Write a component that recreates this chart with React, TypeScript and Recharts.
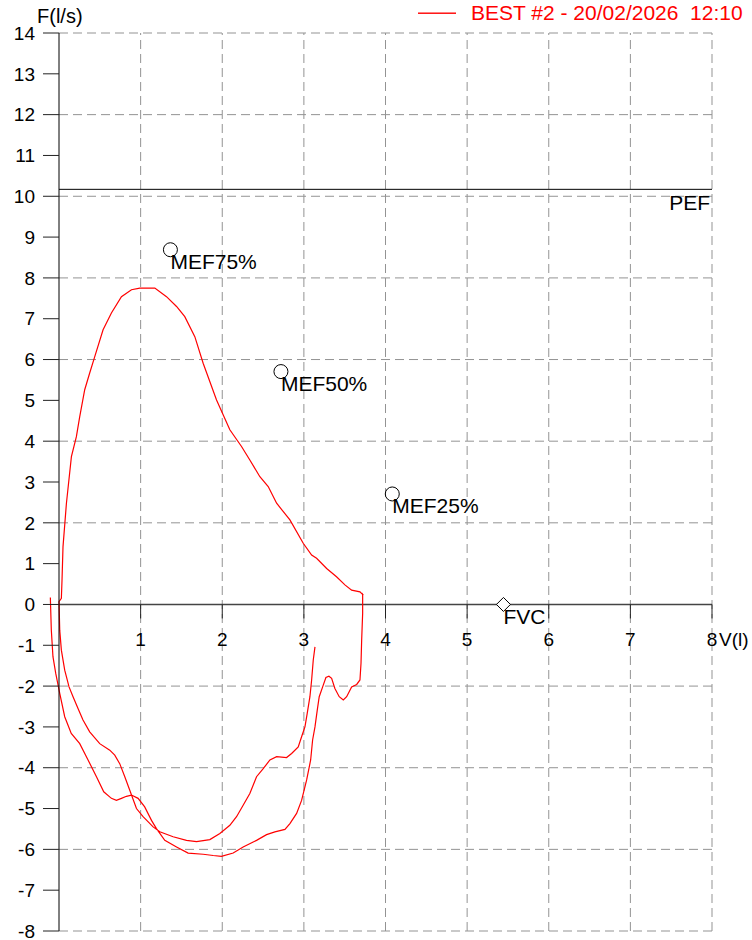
import React from 'react';
import {
  ComposedChart,
  Line,
  Scatter,
  XAxis,
  YAxis,
  ReferenceLine,
} from 'recharts';

// volume (l), flow (l/s)
const outerLoop: [number, number][] = [
  [-0.106, 0.17], [-0.094, -0.63], [-0.074, -1.28], [-0.04, -1.69], [0.009, -2.18],
  [0.07, -2.75], [0.15, -3.16], [0.254, -3.41], [0.356, -3.81], [0.459, -4.22],
  [0.548, -4.59], [0.642, -4.75], [0.703, -4.8], [0.765, -4.75], [0.826, -4.7],
  [0.888, -4.67], [0.969, -4.75], [1.05, -4.96], [1.133, -5.29], [1.194, -5.49],
  [1.296, -5.78], [1.44, -5.94], [1.582, -6.09], [1.766, -6.12], [1.889, -6.15],
  [1.99, -6.17], [2.134, -6.09], [2.256, -5.94], [2.42, -5.78], [2.543, -5.64],
  [2.645, -5.57], [2.768, -5.51], [2.829, -5.37], [2.911, -5.12], [2.972, -4.8],
  [3.034, -4.3], [3.083, -3.81], [3.107, -3.32], [3.136, -3.0], [3.164, -2.59],
  [3.188, -2.26], [3.23, -2.02], [3.27, -1.79], [3.307, -1.76], [3.34, -1.81],
  [3.38, -2.06], [3.433, -2.26], [3.483, -2.34], [3.524, -2.26], [3.585, -2.02],
  [3.647, -1.96], [3.687, -1.85], [3.7, -1.44], [3.708, -0.87], [3.72, -0.22],
  [3.72, 0.25],
];

const expiration: [number, number][] = [
  [3.728, 0.23], [3.687, 0.31], [3.585, 0.35], [3.503, 0.48], [3.4, 0.68],
  [3.279, 0.88], [3.156, 1.13], [3.095, 1.21], [2.992, 1.5], [2.829, 2.07],
  [2.666, 2.48], [2.563, 2.89], [2.461, 3.13], [2.338, 3.54], [2.236, 3.87],
  [2.093, 4.28], [1.93, 5.01], [1.766, 5.91], [1.664, 6.56], [1.541, 7.05],
  [1.44, 7.3], [1.317, 7.54], [1.174, 7.75], [0.99, 7.75], [0.888, 7.71],
  [0.765, 7.54], [0.642, 7.14], [0.54, 6.73], [0.438, 6.07], [0.376, 5.67],
  [0.315, 5.26], [0.254, 4.6], [0.213, 4.11], [0.152, 3.62], [0.091, 2.48],
  [0.049, 1.41], [0.037, 0.6], [0.029, 0.15],
];

const innerLoop: [number, number][] = [
  [0.0, 0.07], [0.009, -0.63], [0.029, -1.12], [0.07, -1.61], [0.123, -2.02],
  [0.172, -2.26], [0.233, -2.55], [0.294, -2.83], [0.376, -3.12], [0.499, -3.41],
  [0.622, -3.57], [0.683, -3.69], [0.744, -3.9], [0.806, -4.22], [0.867, -4.55],
  [0.949, -5.0], [1.03, -5.2], [1.153, -5.45], [1.235, -5.57], [1.398, -5.69],
  [1.562, -5.78], [1.685, -5.81], [1.848, -5.76], [1.971, -5.61], [2.093, -5.41],
  [2.175, -5.2], [2.256, -4.92], [2.338, -4.63], [2.42, -4.22], [2.502, -4.02],
  [2.584, -3.81], [2.666, -3.73], [2.788, -3.75], [2.85, -3.65], [2.931, -3.49],
  [2.972, -3.24], [3.013, -3.0], [3.041, -2.67], [3.074, -2.26], [3.095, -1.85],
  [3.115, -1.36], [3.136, -1.04],
];

const loop = [...outerLoop, ...expiration, ...innerLoop].map(([v, f]) => ({ v, f }));

const volumeTicks = [1, 2, 3, 4, 5, 6, 7, 8];
const flowTicks = [-8, -7, -6, -5, -4, -3, -2, -1, 0, 1, 2, 3, 4, 5, 6, 7, 8, 9, 10, 11, 12, 13, 14];
const gridFlow = [-8, -6, -4, -2, 2, 4, 6, 8, 10, 12, 14];
const gridVolume = [1, 2, 3, 4, 5, 6, 7, 8];

const pef = 10.17;
const mefPoints = [
  { v: 1.365, f: 8.69, name: 'MEF75%' },
  { v: 2.719, f: 5.705, name: 'MEF50%' },
  { v: 4.083, f: 2.707, name: 'MEF25%' },
];
const fvcPoints = [{ v: 5.445, f: 0, name: 'FVC' }];
const pefPoints = [{ v: 8, f: pef, name: 'PEF' }];

const FONT = '"Liberation Sans", Arial, Helvetica, sans-serif';
const W = 752;
const H = 940;
const MARGIN = { top: 33, right: 40, bottom: 9, left: 0 };
const Y_AXIS_W = 59;
// the trace starts a little left of V = 0 (drawn outside the plot like the original);
// the axis domain starts one litre earlier and that litre is pushed out of the plot
const PLOT_W = W - MARGIN.left - MARGIN.right - Y_AXIS_W;
const LITRE_PX = PLOT_W / 8;

function VolumeTick(props: any) {
  const { cx, cy, payload } = props;
  return (
    <g>
      <line x1={cx} y1={cy} x2={cx} y2={cy + 14} stroke="#222" />
      <text x={cx} y={cy + 42} textAnchor="middle" fontSize={19} fontFamily={FONT} fill="#000">
        {payload.v}
      </text>
      {payload.v === volumeTicks[volumeTicks.length - 1] && (
        <text x={cx + 7} y={cy + 42} fontSize={19} fontFamily={FONT} fill="#000">
          V(l)
        </text>
      )}
    </g>
  );
}

function MefMarker(props: any) {
  const { cx, cy, payload } = props;
  return (
    <g>
      <circle cx={cx} cy={cy} r={7} fill="none" stroke="#000" strokeWidth={1} />
      <text x={cx} y={cy + 19} fontSize={21} fontFamily={FONT} fill="#000">
        {payload.name}
      </text>
    </g>
  );
}

function FvcMarker(props: any) {
  const { cx, cy, payload } = props;
  return (
    <g>
      <path
        d={`M${cx - 7},${cy} L${cx},${cy - 7} L${cx + 7},${cy} L${cx},${cy + 7} Z`}
        fill="#fff"
        stroke="#000"
      />
      <text x={cx} y={cy + 20} fontSize={21} fontFamily={FONT} fill="#000">
        {payload.name}
      </text>
    </g>
  );
}

function PefLabel(props: any) {
  const { cx, cy, payload } = props;
  return (
    <text x={cx - 2} y={cy + 21} textAnchor="end" fontSize={21} fontFamily={FONT} fill="#000">
      {payload.name}
    </text>
  );
}

export default function App() {
  return (
    <div style={{ position: 'fixed', left: 0, top: 0, width: W, height: H, background: '#fff' }}>
      <ComposedChart width={W} height={H} margin={MARGIN}>
        <XAxis
          dataKey="v"
          type="number"
          domain={[-1, 8]}
          padding={{ left: -LITRE_PX, right: 0 }}
          hide
        />
        <YAxis
          dataKey="f"
          type="number"
          domain={[-8, 14]}
          ticks={flowTicks}
          interval={0}
          width={Y_AXIS_W}
          tickSize={16}
          tickMargin={8}
          stroke="#000"
          tickLine={{ stroke: '#222' }}
          tick={{ fill: '#000', fontSize: 19, fontFamily: FONT }}
        />
        {gridFlow.map((f) => (
          <ReferenceLine key={`h${f}`} y={f} stroke="#939393" strokeDasharray="9 5" />
        ))}
        {gridVolume.map((v) => (
          <ReferenceLine key={`v${v}`} x={v} stroke="#939393" strokeDasharray="9 5" />
        ))}
        <ReferenceLine y={0} stroke="#444" strokeWidth={1.5} />
        <ReferenceLine y={pef} stroke="#000" strokeWidth={1} />
        <Line
          data={loop}
          dataKey="f"
          type="linear"
          stroke="#ff0000"
          strokeWidth={1.2}
          dot={false}
          isAnimationActive={false}
        />
        <Scatter data={volumeTicks.map((v) => ({ v, f: 0 }))} dataKey="f" shape={VolumeTick} isAnimationActive={false} />
        <Scatter data={mefPoints} dataKey="f" shape={MefMarker} isAnimationActive={false} />
        <Scatter data={fvcPoints} dataKey="f" shape={FvcMarker} isAnimationActive={false} />
        <Scatter data={pefPoints} dataKey="f" shape={PefLabel} isAnimationActive={false} />
      </ComposedChart>
      <svg
        width={W}
        height={H}
        style={{ position: 'absolute', left: 0, top: 0, pointerEvents: 'none' }}
      >
        <text x={37} y={23} fontSize={20} fontFamily={FONT} fill="#000">
          F(l/s)
        </text>
        <rect x={418} y={12.5} width={38} height={1.4} fill="#ff0000" />
        <text x={471} y={20} fontSize={21} fontFamily={FONT} fill="#ff0000" style={{ whiteSpace: 'pre' }}>
          {'BEST #2 - 20/02/2026  12:10'}
        </text>
      </svg>
    </div>
  );
}
